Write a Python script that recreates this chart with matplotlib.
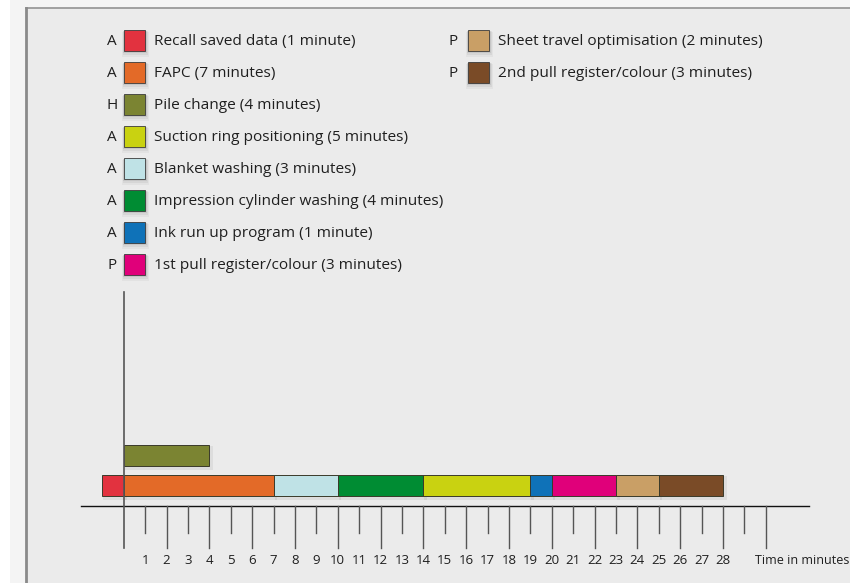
import numpy as np
import matplotlib.pyplot as plt
from matplotlib.patches import Rectangle

# -------------------------------------------------
# DATA
# -------------------------------------------------

# legend entries: code letter, label, colour
codes = ["A", "A", "H", "A", "A", "A", "A", "P", "P", "P"]
labels = [
    "Recall saved data (1 minute)",
    "FAPC (7 minutes)",
    "Pile change (4 minutes)",
    "Suction ring positioning (5 minutes)",
    "Blanket washing (3 minutes)",
    "Impression cylinder washing (4 minutes)",
    "Ink run up program (1 minute)",
    "1st pull register/colour (3 minutes)",
    "Sheet travel optimisation (2 minutes)",
    "2nd pull register/colour (3 minutes)",
]
colors = ["#e2323f", "#e36a28", "#7b8432", "#c9d211", "#bfe2e6",
          "#008c33", "#0f72b8", "#e0007a", "#c99f66", "#7a4b27"]

# gantt segments (minutes) - index into the lists above
starts = [-1, 0, 0, 14, 7, 10, 19, 20, 23, 25]
durations = [1, 7, 4, 5, 3, 4, 1, 3, 2, 3]
lane = [0, 0, 1, 0, 0, 0, 0, 0, 0, 0]   # 1 = pile change row above

tick_vals = np.arange(0, 31)
tick_labels = [str(v) for v in range(1, 29)]

# -------------------------------------------------
# LAYOUT
# -------------------------------------------------

W, H = 850, 583
X0_PX, PX_PER_MIN = 123.7, 21.4
AXIS_Y = 505.7
ROW_Y = {0: 485.7, 1: 455.7}
BAR_H = 21.3
FONT = ["Open Sans", "DejaVu Sans"]
TEXT_C = "#1f1f1f"

fig = plt.figure(figsize=(W / 100, H / 100), dpi=100)
fig.patch.set_facecolor("#f4f4f4")

# pixel-space overlay for panel + legend
lay = fig.add_axes([0, 0, 1, 1])
lay.set_xlim(0, W)
lay.set_ylim(H, 0)
lay.axis("off")
lay.add_patch(Rectangle((0, 0), 10, H, facecolor="white", edgecolor="none", zorder=0))
lay.add_patch(Rectangle((26, 8), W, H, facecolor="#ebebeb", edgecolor="none", zorder=0))
lay.plot([26, W], [8, 8], color="#9a9a9a", lw=1.3, zorder=1)
lay.plot([26, 26], [8, H], color="#8a8a8a", lw=2.0, zorder=1)


def shadow(axis, x, y, w, h, zorder):
    # soft drop shadow, a few translucent layers
    for k, a in zip([5, 3.5, 2], [0.035, 0.05, 0.07]):
        axis.add_patch(Rectangle((x - k * 0.3, y + k * 0.5), w + k, h + k * 0.6,
                                 facecolor="black", edgecolor="none", alpha=a,
                                 zorder=zorder))


# legend
col_x = [(112, 124, 154), (453, 468, 498)]
for i, (c, lab, col) in enumerate(zip(codes, labels, colors)):
    col_i = 0 if i < 8 else 1
    row = i if i < 8 else i - 8
    cy = 40 + 32 * row
    lx, sx, tx = col_x[col_i]
    shadow(lay, sx, cy - 10.5, 21.5, 21.5, 2)
    lay.add_patch(Rectangle((sx, cy - 10.5), 21.5, 21.5, facecolor=col,
                            edgecolor="#3a3a3a", lw=0.6, zorder=3))
    lay.text(lx, cy + 1.5, c, ha="center", va="center", fontsize=11,
             family=FONT, color=TEXT_C)
    lay.text(tx, cy + 1.5, lab, ha="left", va="center", fontsize=11.1,
             family=FONT, color=TEXT_C)

# gantt axes in minutes
ax = fig.add_axes([0, 0, 1, 1])
ax.set_xlim(-X0_PX / PX_PER_MIN, (W - X0_PX) / PX_PER_MIN)
ax.set_ylim(H, 0)
ax.axis("off")
ax.patch.set_alpha(0)

for s, d, ln, col in zip(starts, durations, lane, colors):
    y = ROW_Y[ln]
    ax.barh(y + 2.5, d + 0.12, left=s + 0.05, height=BAR_H + 3, color="black",
            alpha=0.06, zorder=2, linewidth=0)
    ax.barh(y, d, left=s, height=BAR_H, color=col, edgecolor="#3a3a2a",
            linewidth=0.7, zorder=3)

# axis lines and ticks
ax.plot([-2, 32], [AXIS_Y, AXIS_Y], color="#111111", lw=1.0, zorder=4)
ax.plot([0, 0], [292, 548], color="#555555", lw=1.2, zorder=4)
for v in tick_vals[1:]:
    end = 548 if v % 2 == 0 else 533
    ax.plot([v, v], [AXIS_Y, end], color="#555555", lw=1.0, zorder=4)
for v, t in zip(range(1, 29), tick_labels):
    ax.text(v, 560, t, ha="center", va="center", fontsize=9.5,
            family=FONT, color=TEXT_C)
ax.text(849, 560, "Time in minutes", ha="right", va="center", fontsize=9,
        family=FONT, color=TEXT_C, transform=lay.transData)

fig.savefig("out.png", dpi=100)
